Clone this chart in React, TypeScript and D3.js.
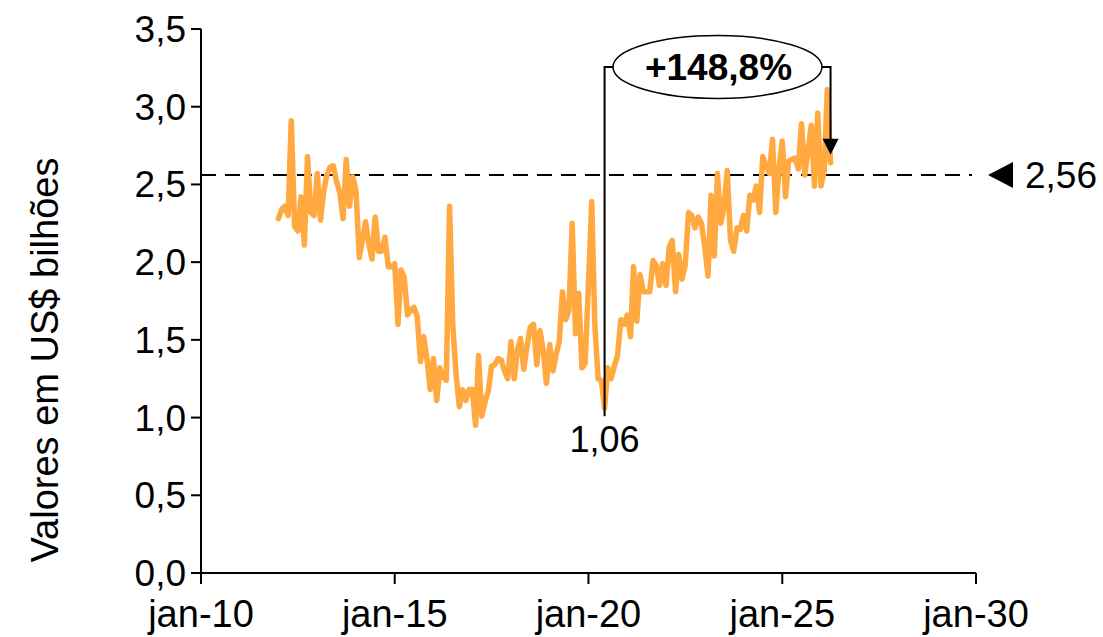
import React from "react";
import * as d3 from "d3";

const startYear = 2012;
const values: number[] = [
  2.28, 2.34, 2.36, 2.30, 2.91, 2.23, 2.20, 2.42, 2.11, 2.68, 2.32, 2.30,
  2.57, 2.27, 2.45, 2.56, 2.61, 2.62, 2.52, 2.45, 2.28, 2.66, 2.36, 2.55,
  2.46, 2.03, 2.14, 2.26, 2.12, 2.02, 2.29, 2.07, 2.07, 2.16, 1.97, 1.97,
  1.99, 1.60, 1.95, 1.90, 1.66, 1.69, 1.71, 1.65, 1.36, 1.52, 1.38, 1.18,
  1.38, 1.11, 1.32, 1.26, 1.24, 2.36, 1.60, 1.28, 1.07, 1.18, 1.11, 1.18,
  1.18, 0.95, 1.40, 1.01, 1.10, 1.17, 1.33, 1.34, 1.38, 1.37, 1.30, 1.25,
  1.49, 1.25, 1.43, 1.51, 1.31, 1.46, 1.58, 1.60, 1.34, 1.56, 1.43, 1.22,
  1.47, 1.30, 1.40, 1.49, 1.81, 1.63, 1.69, 2.25, 1.54, 1.80, 1.32, 1.35,
  1.86, 2.39, 1.60, 1.25, 1.24, 1.06, 1.32, 1.25, 1.33, 1.40, 1.63, 1.60,
  1.66, 1.52, 1.97, 1.62, 1.92, 1.81, 1.81, 1.81, 2.01, 1.98, 1.85, 1.99,
  1.85, 2.10, 2.14, 1.81, 2.05, 1.89, 1.98, 2.32, 2.30, 2.22, 2.29, 2.25,
  2.10, 1.91, 2.43, 2.04, 2.57, 2.25, 2.35, 2.59, 2.14, 2.07, 2.22, 2.21,
  2.30, 2.20, 2.43, 2.40, 2.49, 2.32, 2.68, 2.62, 2.57, 2.79, 2.32, 2.60,
  2.78, 2.42, 2.65, 2.66, 2.67, 2.60, 2.89, 2.56, 2.72, 2.88, 2.49, 2.96,
  2.49, 2.59, 3.11, 2.64,
];
const yTicks = [0, 0.5, 1, 1.5, 2, 2.5, 3, 3.5];
const xTickYears = [2010, 2015, 2020, 2025, 2030];
const refValue = 2.56;
const refLabel = "2,56";
const lowIndex = 101;
const lowLabel = "1,06";
const changeLabel = "+148,8%";
const yTitle = "Valores em US$ bilhões";

const fmt = d3
  .formatLocale({ decimal: ",", thousands: ".", grouping: [3], currency: ["", ""] })
  .format(".1f");

export default function App() {
  const W = 1103, H = 637;
  const x = d3.scaleTime().domain([new Date(2010, 0, 1), new Date(2030, 0, 1)]).range([201, 976]);
  const y = d3.scaleLinear().domain([0, 3.5]).range([573, 29]);
  const data = values.map((v, i) => ({ d: new Date(startYear, i, 1), v }));
  const line = d3.line<{ d: Date; v: number }>().x((p) => x(p.d)).y((p) => y(p.v)).curve(d3.curveLinear);
  const font = "'Liberation Sans', Arial, sans-serif";
  const low = data[lowIndex];
  const last = data[data.length - 1];
  const lx = x(low.d);
  const rx = x(last.d);
  const topY = 67;
  const ex = 717.5, ery = 31.5, erx = 104.5;
  const arrowTip = y(last.v) - 8;
  const refY = y(refValue);
  return (
    <svg width={W} height={H} style={{ position: "absolute", left: 0, top: 0, background: "#fff" }} fontFamily={font}>
      {/* axes */}
      <line x1={201} x2={201} y1={y(3.5)} y2={y(0)} stroke="#000" strokeWidth={2} />
      <line x1={201} x2={976} y1={y(0)} y2={y(0)} stroke="#000" strokeWidth={2} />
      {yTicks.map((t) => (
        <g key={t}>
          <line x1={191} x2={201} y1={y(t)} y2={y(t)} stroke="#000" strokeWidth={2} />
          <text x={186} y={y(t) + 13} textAnchor="end" fontSize={37}>{fmt(t)}</text>
        </g>
      ))}
      {xTickYears.map((yr) => {
        const xx = x(new Date(yr, 0, 1));
        return (
          <g key={yr}>
            <line x1={xx} x2={xx} y1={573} y2={584} stroke="#000" strokeWidth={2} />
            <text x={xx} y={627} textAnchor="middle" fontSize={38}>{`jan-${String(yr).slice(2)}`}</text>
          </g>
        );
      })}
      <text transform={`translate(58,360) rotate(-90)`} textAnchor="middle" fontSize={38}>{yTitle}</text>
      {/* reference line */}
      <line x1={201} x2={972} y1={refY} y2={refY} stroke="#000" strokeWidth={2} strokeDasharray="15,9" />
      <path d={`M988,${refY} L1013,${refY - 13} L1013,${refY + 13} Z`} fill="#000" />
      <text x={1025} y={refY + 13} fontSize={37}>{refLabel}</text>
      {/* series */}
      <path d={line(data) || ""} fill="none" stroke="#FFA940" strokeWidth={5.5} strokeLinejoin="round" strokeLinecap="round" />
      {/* annotation */}
      <path d={`M${lx},${y(low.v) + 8} L${lx},${topY} L${ex - erx},${topY}`} fill="none" stroke="#000" strokeWidth={2} />
      <path d={`M${ex + erx},${topY} L${rx},${topY} L${rx},${arrowTip - 14}`} fill="none" stroke="#000" strokeWidth={2} />
      <path d={`M${rx},${arrowTip} L${rx - 8},${arrowTip - 16} L${rx + 8},${arrowTip - 16} Z`} fill="#000" />
      <ellipse cx={ex} cy={topY} rx={erx} ry={ery} fill="#fff" stroke="#000" strokeWidth={1.5} />
      <text x={ex + 1} y={topY + 13} textAnchor="middle" fontSize={37} fontWeight="bold">{changeLabel}</text>
      <text x={lx} y={452} textAnchor="middle" fontSize={36}>{lowLabel}</text>
    </svg>
  );
}
